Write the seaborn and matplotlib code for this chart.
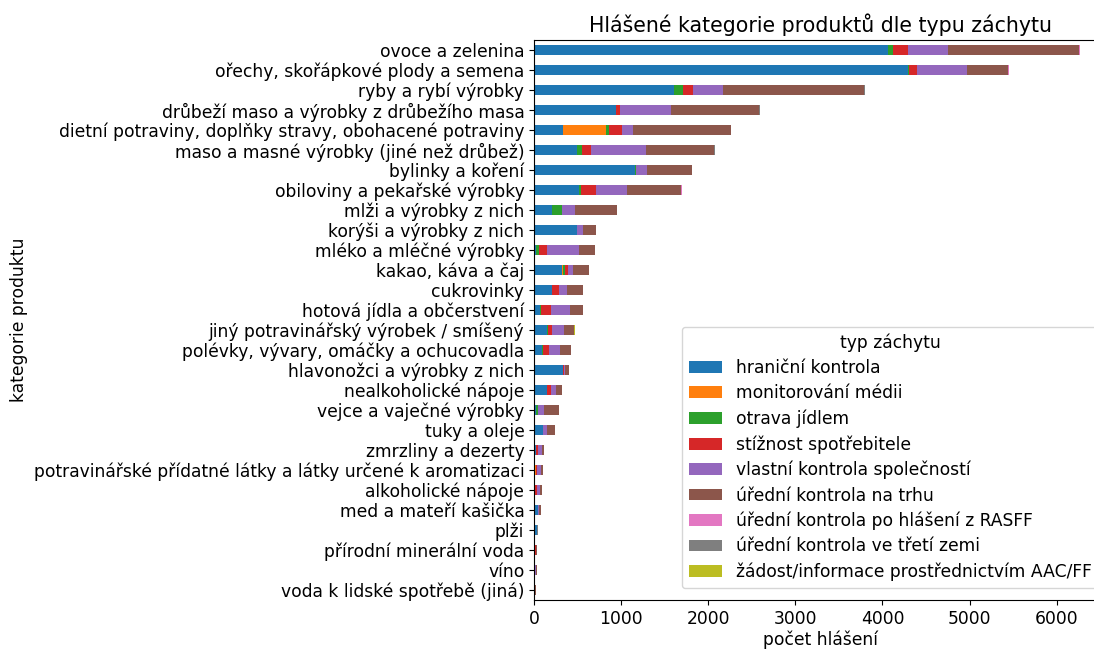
import numpy as np
import pandas as pd
import matplotlib
matplotlib.use("Agg")
import matplotlib.pyplot as plt
import seaborn as sns
from matplotlib.patches import Patch

plt.rcParams["font.family"] = ["DejaVu Sans"]
plt.rcParams["font.size"] = 12.33

categories = [
    "ovoce a zelenina",
    "ořechy, skořápkové plody a semena",
    "ryby a rybí výrobky",
    "drůbeží maso a výrobky z drůbežího masa",
    "dietní potraviny, doplňky stravy, obohacené potraviny",
    "maso a masné výrobky (jiné než drůbež)",
    "bylinky a koření",
    "obiloviny a pekařské výrobky",
    "mlži a výrobky z nich",
    "korýši a výrobky z nich",
    "mléko a mléčné výrobky",
    "kakao, káva a čaj",
    "cukrovinky",
    "hotová jídla a občerstvení",
    "jiný potravinářský výrobek / smíšený",
    "polévky, vývary, omáčky a ochucovadla",
    "hlavonožci a výrobky z nich",
    "nealkoholické nápoje",
    "vejce a vaječné výrobky",
    "tuky a oleje",
    "zmrzliny a dezerty",
    "potravinářské přídatné látky a látky určené k aromatizaci",
    "alkoholické nápoje",
    "med a mateří kašička",
    "plži",
    "přírodní minerální voda",
    "víno",
    "voda k lidské spotřebě (jiná)",
]

series_names = [
    "hraniční kontrola",
    "monitorování médii",
    "otrava jídlem",
    "stížnost spotřebitele",
    "vlastní kontrola společností",
    "úřední kontrola na trhu",
    "úřední kontrola po hlášení z RASFF",
    "úřední kontrola ve třetí zemi",
    "žádost/informace prostřednictvím AAC/FF",
]

hranicni_kontrola = [4064, 4299, 1604, 938, 329, 498, 1164, 518, 206, 498, 19, 322, 203, 69,
                     154, 96, 338, 154, 19, 107, 19, 8, 5, 48, 36, 4, 3, 0]
monitorovani_medii = [0, 0, 0, 0, 502, 0, 0, 0, 0, 0, 0, 12, 0, 0,
                      0, 0, 0, 0, 0, 0, 0, 15, 0, 0, 0, 0, 0, 0]
otrava_jidlem = [62, 5, 107, 8, 33, 57, 8, 21, 115, 0, 39, 19, 8, 12,
                 7, 11, 0, 0, 23, 0, 0, 0, 0, 0, 0, 0, 0, 0]
stiznost_spotrebitele = [164, 97, 115, 41, 148, 99, 0, 173, 0, 0, 88, 35, 77, 111,
                         46, 66, 8, 38, 0, 0, 27, 6, 30, 0, 0, 14, 0, 5]
vlastni_kontrola = [465, 568, 346, 589, 123, 634, 128, 358, 148, 66, 368, 65, 92, 219,
                    135, 130, 12, 58, 73, 39, 50, 55, 32, 10, 0, 0, 25, 0]
uredni_kontrola_trh = [1502, 476, 1612, 1011, 1127, 781, 510, 612, 489, 152, 192, 173, 188, 146,
                       115, 123, 49, 72, 169, 100, 15, 22, 20, 22, 0, 20, 5, 15]
uredni_kontrola_rasff = [16, 5, 0, 0, 0, 0, 0, 13, 0, 0, 0, 0, 0, 0,
                         0, 0, 0, 0, 0, 0, 0, 0, 0, 0, 0, 0, 0, 0]
uredni_kontrola_treti_zeme = [0, 0, 13, 8, 0, 8, 5, 0, 0, 0, 0, 0, 0, 0,
                              0, 0, 0, 0, 0, 0, 0, 0, 0, 0, 12, 0, 0, 0]
zadost_aac_ff = [0, 0, 0, 0, 0, 0, 0, 0, 0, 0, 0, 0, 0, 0,
                 11, 0, 0, 0, 0, 0, 0, 0, 0, 0, 0, 0, 0, 0]

series_values = [hranicni_kontrola, monitorovani_medii, otrava_jidlem, stiznost_spotrebitele,
                 vlastni_kontrola, uredni_kontrola_trh, uredni_kontrola_rasff,
                 uredni_kontrola_treti_zeme, zadost_aac_ff]

palette = sns.color_palette("tab10", len(series_names))

fig = plt.figure(figsize=(10.94, 6.5), dpi=100)
ax = fig.add_axes([534 / 1094, 1 - 600 / 650, 574 / 1094, 560 / 650])

vals = np.array(series_values, dtype=float)  # (9, 28)
cum = vals.cumsum(axis=0)
for j in reversed(range(len(series_names))):
    df = pd.DataFrame({"kategorie": categories, "pocet": cum[j]})
    sns.barplot(data=df, x="pocet", y="kategorie", order=categories, orient="h",
                color=palette[j], saturation=1, width=0.5, errorbar=None, ax=ax)

ax.set_xlim(0, 6590)
ax.set_ylim(len(categories) - 0.5, -0.5)
ax.set_xticks([0, 1000, 2000, 3000, 4000, 5000, 6000])
ax.set_xlabel("počet hlášení", labelpad=2)
ax.set_ylabel("kategorie produktu")
ax.set_title("Hlášené kategorie produktů dle typu záchytu", fontsize=14.8)
for s in ax.spines.values():
    s.set_visible(True)

handles = [Patch(facecolor=palette[i], label=series_names[i]) for i in range(len(series_names))]
ax.legend(handles=handles, title="typ záchytu", loc="lower left",
          bbox_to_anchor=(682 / 1094, 1 - 588 / 650), bbox_transform=fig.transFigure,
          borderaxespad=0, handlelength=1.95, handleheight=0.685, labelspacing=0.42)

fig.savefig("out.png", dpi=100)
